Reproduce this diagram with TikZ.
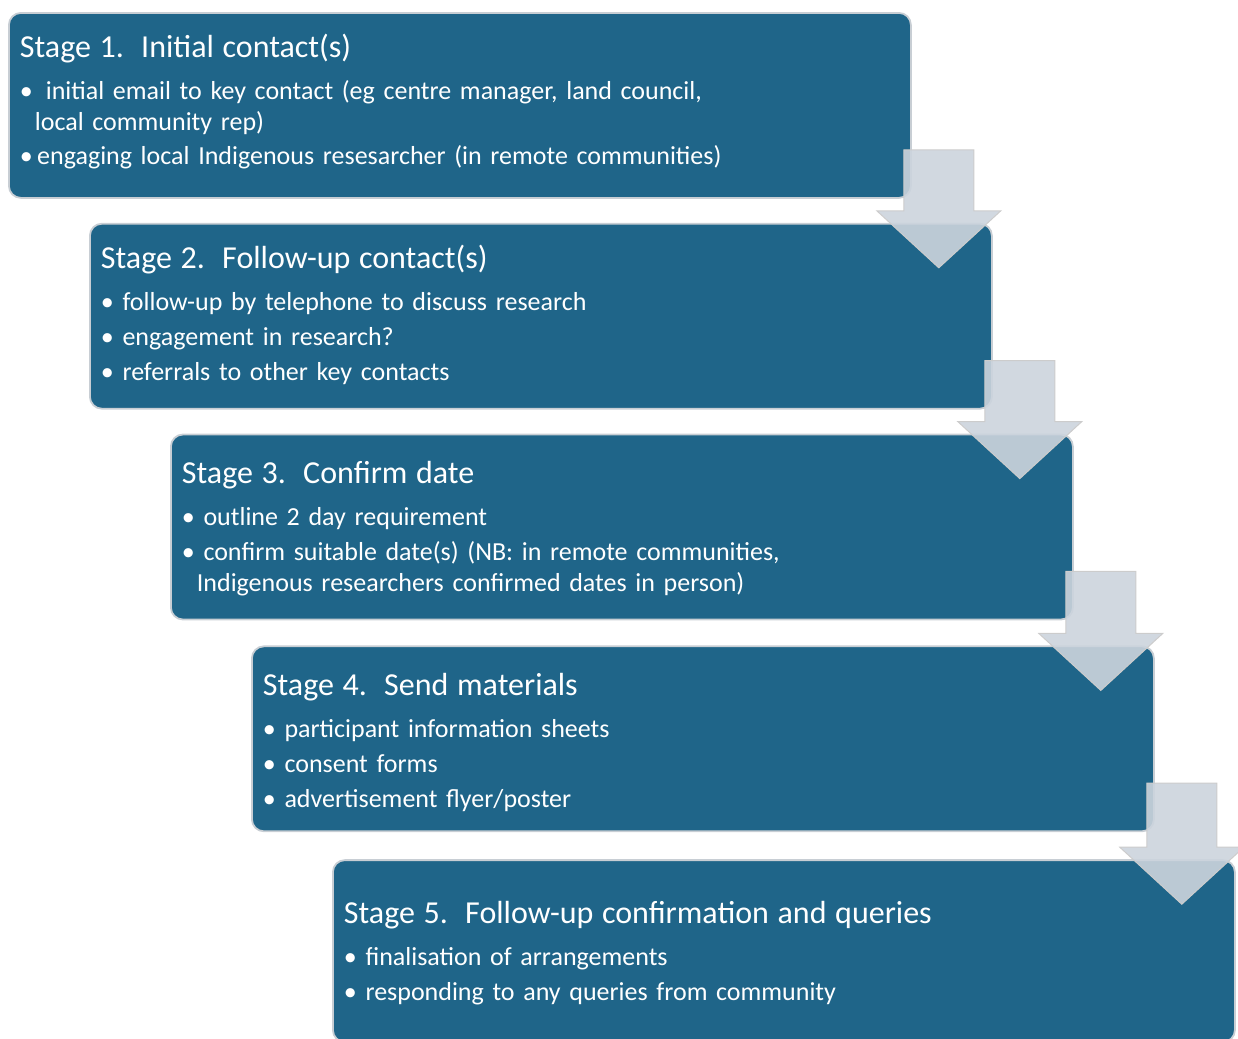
\documentclass[tikz,border=0pt]{standalone}
\usepackage{fontspec}
\setmainfont{Carlito}
\usepackage{tikz}
\usetikzlibrary{positioning,calc}
\definecolor{stageblue}{RGB}{31,101,137}
\definecolor{stageedge}{RGB}{200,206,212}
\definecolor{arrowgrey}{RGB}{204,212,221}
\tikzstyle{stage} = [rectangle, rounded corners=6pt, minimum width=451pt, minimum height=92.5pt, draw=stageedge, line width=0.9pt, fill=stageblue, inner sep=0pt]
\tikzstyle{stagetext} = [inner sep=0pt, text=white, align=left, text width=440pt, font=\fontsize{13}{15.5}\selectfont]
\tikzstyle{stagearrow} = [fill=arrowgrey, fill opacity=0.9, draw=black!20, line width=0.5pt]
\newcommand{\stagetitle}[1]{{\fontsize{16}{18}\selectfont #1}}

\begin{document}
\begin{tikzpicture}
\useasboundingbox (0,0) rectangle (619pt,-519.5pt);

% Stages
\node[stage, anchor=north west] (s1) at (4pt,-6pt) {};
\node[stage, below right=12pt and 40.5pt of s1.south west] (s2) {};
\node[stage, below right=12pt and 40.5pt of s2.south west] (s3) {};
\node[stage, below right=12.5pt and 40.5pt of s3.south west] (s4) {};
\node[stage, minimum height=91pt, below right=13.5pt and 40.5pt of s4.south west] (s5) {};

% Stage texts
\node[stagetext, below right=11pt and 5.75pt of s1.north west] (t1) {%
\stagetitle{Stage 1.\ \ Initial contact(s)}\\[5.5pt]
\textbullet\ \,initial email to key contact (eg centre manager, land council,\\
\hspace*{7.5pt}local community rep)\\[1.5pt]
\textbullet\,engaging local Indigenous resesarcher (in remote communities)};

\node[stagetext, below right=11pt and 5.75pt of s2.north west] (t2) {%
\stagetitle{Stage 2.\ \ Follow-up contact(s)}\\[5.5pt]
\textbullet\ follow-up by telephone to discuss research\\[2pt]
\textbullet\ engagement in research?\\[2pt]
\textbullet\ referrals to other key contacts};

\node[stagetext, below right=13.5pt and 5.75pt of s3.north west] (t3) {%
\stagetitle{Stage 3.\ \ Confirm date}\\[5.5pt]
\textbullet\ outline 2 day requirement\\[2pt]
\textbullet\ confirm suitable date(s) (NB: in remote communities,\\
\hspace*{7.5pt}Indigenous researchers confirmed dates in person)};

\node[stagetext, below right=13.5pt and 5.75pt of s4.north west] (t4) {%
\stagetitle{Stage 4.\ \ Send materials}\\[5.5pt]
\textbullet\ participant information sheets\\[2pt]
\textbullet\ consent forms\\[2pt]
\textbullet\ advertisement flyer/poster};

\node[stagetext, below right=21pt and 5.75pt of s5.north west] (t5) {%
\stagetitle{Stage 5.\ \ Follow-up confirmation and queries}\\[5.5pt]
\textbullet\ finalisation of arrangements\\[2pt]
\textbullet\ responding to any queries from community};

% Arrows
\foreach \a/\b in {s1/s2, s2/s3, s3/s4, s4/s5} {
  \coordinate (tip) at ($(\b.north east)+(-27pt,-22.5pt)$);
  \draw[stagearrow] (tip) -- ++(31pt,28.5pt) -- ++(-13.5pt,0)
    -- ($(tip |- \a.south east)+(17.5pt,24.5pt)$)
    -- ($(tip |- \a.south east)+(-17.5pt,24.5pt)$)
    -- ($(tip)+(-17.5pt,28.5pt)$) -- ++(-13.5pt,0) -- cycle;
}
\end{tikzpicture}
\end{document}
